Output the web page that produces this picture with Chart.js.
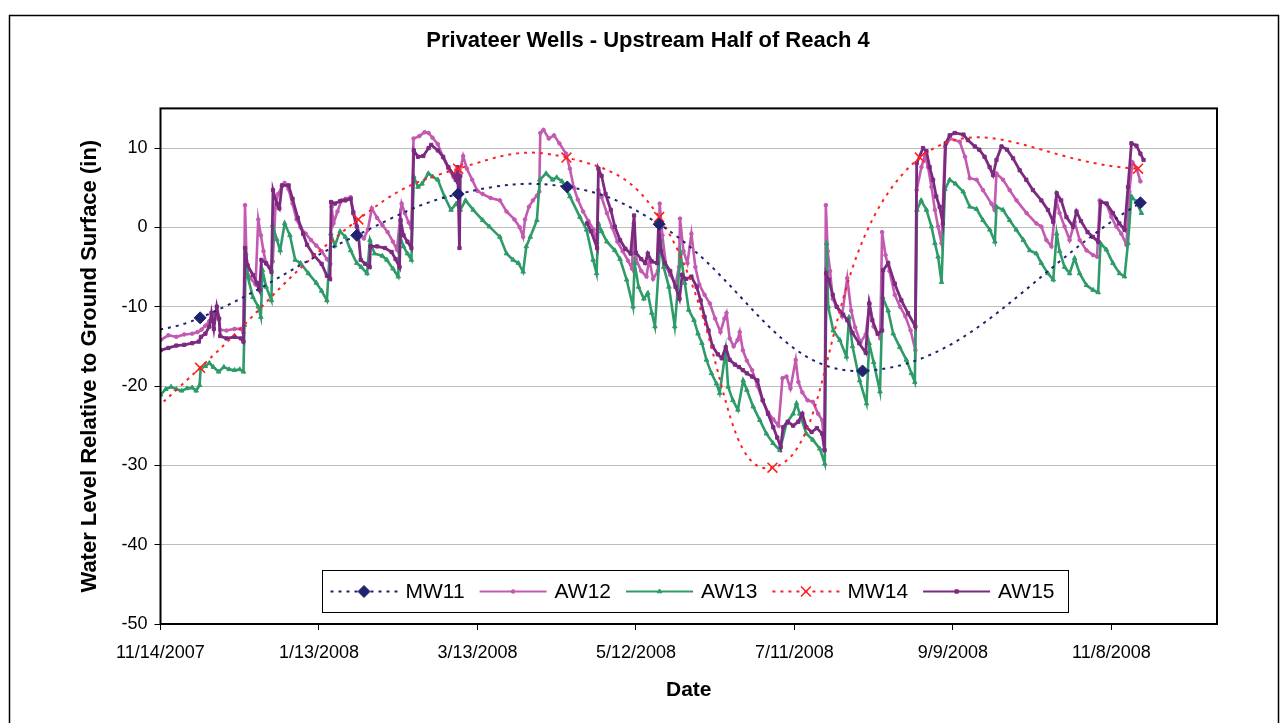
<!DOCTYPE html>
<html>
<head>
<meta charset="utf-8">
<title>Privateer Wells - Upstream Half of Reach 4</title>
<script src="https://cdn.jsdelivr.net/npm/chart.js@4.4.1/dist/chart.umd.min.js"></script>
<style>
  html, body { margin: 0; padding: 0; background: #fff; }
  #wrap { width: 1282px; height: 723px; position: relative; }
  canvas { display: block; }
</style>
</head>
<body>
<div id="wrap"><canvas id="chart" width="1282" height="723"></canvas></div>
<script>
// ---- DATA (x = days after 11/14/2007, y = water level in inches) ----
const BASE_YEAR = 2007, BASE_MONTH = 10, BASE_DAY = 14;   // 11/14/2007
const xTickDays = [0, 60, 120, 180, 240, 300, 360];
const yTickValues = [-50, -40, -30, -20, -10, 0, 10];
const seriesNames = ['MW11', 'AW12', 'AW13', 'MW14', 'AW15'];

// monitoring wells (manual readings; first point lies just before the axis start)
const mw11Readings = [[-15, -13.8], [15, -11.4], [74.3, -1.0], [112.7, 4.2], [154, 5.1], [188.8, 0.4], [265.8, -18.1], [371, 3.1]];
const mw14Readings = [[-10, -25.4], [15, -17.7], [74.9, 1.0], [112.7, 7.4], [153.7, 8.8], [188.8, 1.3], [231.7, -30.3], [287.5, 8.8], [370.1, 7.4]];

const aw12Readings = [[0,-14.2],[3,-13.6],[6,-13.8],[9,-13.5],[12,-13.4],[14,-13.2],[15.5,-12.9],[17,-12.4],[18.5,-11.8],[20,-11.2],[21,-10.6],[22,-11.5],[22.6,-12.9],[25,-13.0],[28,-12.8],[30.5,-12.8],[31.4,-13.3],[32,2.8],[32.7,-5.5],[34,-6.4],[36,-7.2],[37,1.0],[38,-1.0],[39,-3.0],[40,-4.6],[41.5,-5.0],[42.5,-4.3],[43.5,2.5],[44.5,4.2],[46,5.2],[47,5.6],[48.5,4.8],[50,3.0],[51.5,1.0],[53,0.0],[55,-0.8],[57,-1.6],[59,-2.3],[61,-3.0],[63,-4.0],[64.3,-4.6],[64.8,2.6],[65.5,0.5],[67,2.0],[68.5,3.4],[70,3.6],[72,3.8],[73,2.0],[74,0.8],[75.5,-1.0],[77,-1.4],[78.5,-0.3],[80,2.4],[82,1.2],[84,0.3],[86,-0.6],[88,-1.8],[89.5,-2.8],[91.3,3.0],[92.5,1.8],[94,0.6],[95,-0.1],[95.8,11.2],[98,11.5],[100,12.0],[101.5,11.9],[103,11.3],[105,10.5],[107,8.8],[109,7.4],[111,6.3],[113,6.5],[114.6,9.0],[116,7.4],[118,6.0],[120,4.6],[122,4.2],[125,3.7],[128.5,3.4],[131,2.0],[134,1.0],[136,0.0],[137.3,-1.2],[138,1.0],[139.5,2.6],[141,3.4],[142.5,4.0],[143.4,4.5],[143.8,11.9],[145,12.3],[147,11.2],[149,11.6],[151,10.6],[153.5,9.3],[155,7.4],[156.5,5.0],[158,3.5],[160,2.0],[162,0.8],[164,-0.3],[165.3,-2.0],[165.8,4.7],[167,3.8],[169,1.8],[171,0.0],[173,-1.8],[175,-3.0],[177,-4.2],[178.5,-5.2],[179.2,0.5],[180,-4.0],[182,-5.5],[184,-6.2],[185,-4.0],[186.5,-6.5],[188.3,-5.5],[189,3.0],[190,-1.0],[191.5,-5.0],[193,-6.0],[195,-7.2],[196.3,-5.0],[196.7,1.1],[198,-3.0],[199.5,-4.5],[201,-0.8],[202.5,-5.0],[204,-7.2],[206,-8.5],[208,-9.6],[210,-11.5],[212,-13.2],[213.5,-11.5],[214.3,-10.8],[215.5,-14.0],[217,-15.0],[218.5,-14.2],[219.3,-13.2],[220.5,-15.5],[222,-16.8],[224,-18.0],[226,-20.0],[228,-21.8],[230,-23.3],[232,-24.2],[234,-25.0],[235.5,-19.0],[237,-18.8],[238.5,-20.3],[240.5,-16.7],[241.5,-19.5],[243,-20.8],[245,-21.8],[247,-22.0],[249,-23.5],[250.5,-24.3],[251.4,-28.0],[251.9,2.8],[252.6,-3.0],[253.5,-5.5],[254.5,-9.0],[256,-10.0],[258,-11.2],[260,-6.4],[261.5,-10.5],[263,-12.6],[265,-14.5],[267,-13.5],[268.5,-9.6],[270,-12.5],[272.5,-14.0],[273.2,-0.6],[274.5,-3.5],[276,-5.5],[278,-8.5],[280,-10.0],[282,-11.2],[284,-13.0],[285.8,-15.5],[286.3,4.7],[288.1,7.6],[289.4,9.1],[290.6,7.6],[291.9,5.1],[293.2,2.2],[294.4,0.1],[295.7,-2.0],[297,10.2],[299,11.2],[302.6,10.8],[304.6,8.9],[306.4,6.2],[309,6.0],[311.4,4.7],[314.6,3.0],[315.8,2.2],[316.5,6.8],[319,6.0],[321.5,4.7],[324.1,3.4],[327.9,1.8],[331.6,0.5],[333.5,0.1],[335.4,-1.6],[337.3,-2.4],[339.2,3.4],[340.4,1.8],[342.3,0.1],[344.2,-1.6],[346.1,0.7],[348,-1.6],[350.6,-2.9],[353.1,-3.5],[354.6,-3.7],[355.6,3.4],[358.1,3.0],[360,1.3],[361.9,0.1],[363.8,-0.8],[365.7,-2.2],[366.8,4.5],[368,8.2],[369.5,7.5],[371,5.8]];

const aw13Readings = [[0,-21.1],[2,-20.4],[4,-20.1],[6,-20.4],[8,-20.6],[10,-20.3],[12,-20.2],[13.5,-20.6],[14.8,-19.9],[15.2,-17.8],[17,-17.5],[18.5,-17.1],[20,-17.6],[22,-18.2],[24,-17.6],[26,-17.9],[28,-18.0],[30,-17.9],[31.4,-18.2],[31.8,-12.3],[32.3,-3.3],[33,-6.2],[35,-8.8],[37,-10.0],[38,-11.3],[38.6,-5.4],[40,-7.5],[42,-9.2],[42.5,0.3],[44,-1.5],[45.3,-2.9],[47,0.5],[49,-1.0],[51,-4.1],[53,-4.5],[56,-5.8],[59,-7.0],[61,-8.0],[63,-9.2],[64.5,-0.8],[66,-2.3],[68,-0.5],[70,-1.2],[72,-2.9],[74.3,-4.5],[76,-5.0],[78.2,-5.8],[79.3,-1.6],[81,-3.3],[84,-3.6],[85.7,-4.1],[88,-5.2],[90,-6.2],[90.6,-1.0],[92,-2.4],[93.5,-3.3],[95,-4.1],[95.9,6.4],[97.5,5.1],[99,5.5],[101.4,6.8],[103,6.4],[105,6.0],[107.5,3.9],[110,2.2],[112,3.0],[113.5,2.2],[115.5,3.4],[118.4,2.2],[122,0.9],[124.5,0.1],[128.5,-1.2],[131,-3.3],[133.5,-4.1],[135.5,-4.5],[137.3,-5.6],[138.5,-2.4],[140,-1.2],[142.5,0.9],[143.6,6.0],[146,6.8],[148.5,6.0],[150,6.3],[152,5.8],[155,3.9],[158.8,1.3],[161.3,-0.3],[163.8,-4.1],[165.1,-5.8],[165.8,0.5],[167,-0.5],[169,-1.8],[172,-2.9],[174,-4.0],[176.5,-6.6],[178.9,-10.0],[179.5,-4.5],[181,-7.5],[183,-9.0],[184.5,-8.3],[186,-10.8],[187.2,-12.5],[189.3,-1.6],[190.5,-5.0],[192.5,-7.5],[194.7,-12.5],[196.9,-3.3],[198.5,-7.0],[200,-10.4],[202,-11.7],[203.5,-13.4],[205,-14.6],[206.7,-16.7],[208.6,-18.4],[210.5,-19.7],[211.7,-20.9],[214,-15.5],[214.9,-20.1],[216.7,-21.8],[218.6,-23.0],[220.6,-19.3],[222,-20.5],[224.4,-22.6],[226.9,-24.3],[229.4,-26.0],[231.9,-27.2],[234.5,-28.1],[237,-24.7],[239.5,-23.5],[240.8,-22.2],[242,-23.5],[244.5,-26.0],[247,-26.8],[249.6,-27.9],[251.5,-29.8],[252.2,-2.0],[252.8,-10.0],[254.7,-13.0],[257.2,-14.2],[259.7,-16.3],[260.7,-11.3],[262,-15.0],[264.7,-19.3],[267.3,-22.2],[268.3,-14.6],[270,-17.0],[272.4,-20.7],[273.4,-8.8],[275.5,-10.5],[277.4,-13.4],[279.9,-15.1],[282.4,-16.7],[284.3,-18.4],[285.6,-19.5],[286.4,2.2],[288,3.4],[290,2.2],[291.9,0.1],[293.2,-2.0],[294.4,-3.7],[295.7,-6.9],[297,4.8],[298.8,6.0],[301,5.5],[303.9,4.5],[306.4,2.6],[309,2.3],[311.4,0.9],[314,-0.3],[315.9,-1.8],[316.5,2.6],[319,2.2],[321.5,0.9],[324,-0.3],[326.7,-1.6],[329.1,-2.9],[331.6,-3.3],[333.5,-4.5],[336,-5.8],[338,-6.6],[339.3,-0.8],[340.4,-3.0],[342.3,-5.0],[344.2,-5.8],[346.1,-3.9],[348,-5.8],[350.6,-7.3],[353.1,-7.9],[355,-8.2],[355.9,-2.0],[358.1,-2.8],[360.6,-4.5],[363.1,-5.8],[365,-6.2],[366.3,-2.0],[367.6,3.9],[369.5,3.2],[371.4,1.8]];

const aw15Readings = [[0,-15.5],[3,-15.2],[6,-14.9],[9,-14.8],[12,-14.6],[14.5,-14.4],[15.3,-13.8],[17,-13.4],[18.5,-12.5],[19.3,-10.8],[20.2,-12.8],[21.3,-10.0],[22.2,-11.5],[22.6,-13.7],[25,-14.0],[28,-13.8],[30.5,-14.0],[31.4,-14.4],[32,-2.6],[33,-4.8],[35,-6.0],[36.5,-7.0],[37.5,-7.9],[38.2,-4.1],[40,-4.5],[42,-5.6],[42.6,4.7],[44,3.0],[45,2.4],[46,5.3],[48.5,5.3],[50,3.6],[52,1.2],[54,-0.8],[55.5,-2.2],[58,-3.5],[61,-4.6],[63,-6.1],[64.2,-6.5],[64.6,3.2],[66,3.0],[68,3.3],[70,3.4],[72,3.6],[73,1.8],[74.3,0.1],[75,-1.2],[75.8,-4.1],[77.5,-4.6],[79.2,-5.0],[79.5,-2.4],[82,-2.4],[85,-2.6],[87.5,-3.1],[89,-4.0],[90.5,-5.0],[90.9,0.9],[92,-1.0],[93.5,-1.8],[95,-2.6],[95.9,9.7],[97.5,8.9],[99.5,9.0],[101.5,10.0],[102.5,10.4],[105,9.7],[107,8.9],[109,7.6],[111,6.6],[111.8,6.0],[112.5,7.6],[113.2,-2.6],[113.5,6.5],[138,null],[161.5,0.5],[163,-0.5],[165.3,-2.6],[165.8,7.4],[167,6.5],[168.5,4.2],[170.5,2.2],[172,0.1],[174,-1.6],[176,-2.7],[178,-3.3],[179.3,1.5],[180,-3.2],[182,-4.0],[183.5,-4.5],[184.5,-3.3],[186,-4.3],[188,-4.5],[188.6,0.5],[189.5,-3.0],[191,-4.5],[193,-5.5],[195,-7.5],[196.5,-9.0],[197.5,-6.0],[199,-6.5],[201,-6.2],[203,-7.5],[204.5,-9.2],[206,-11.3],[207.5,-13.0],[209,-15.0],[211,-16.0],[212.5,-16.5],[214,-15.1],[215.5,-16.7],[217.5,-17.3],[219,-17.6],[220.5,-18.0],[222,-18.4],[224,-18.8],[226,-19.3],[228,-21.8],[230,-23.5],[232,-25.2],[233.5,-26.5],[234.8,-27.7],[235.7,-25.2],[237.5,-24.5],[239.5,-25.0],[241.5,-24.5],[243,-23.5],[244.5,-25.2],[246.5,-25.8],[248.5,-25.3],[250.5,-26.0],[251.4,-28.1],[252,-5.8],[253,-6.6],[254.5,-8.5],[256,-10.0],[258.5,-11.0],[260,-11.7],[262,-13.3],[264.5,-14.6],[267,-15.8],[268.3,-9.6],[269.5,-11.7],[271.5,-13.4],[273.2,-13.0],[273.6,-5.4],[275.5,-4.5],[278,-7.1],[280.5,-9.2],[283,-10.8],[285.8,-12.5],[286.3,8.1],[288.7,10.0],[290,9.6],[291.2,7.6],[292.5,6.0],[293.7,3.9],[295,2.6],[296.2,0.5],[297.3,10.6],[298.8,11.6],[300.7,11.9],[304,11.7],[305.7,11.0],[308.3,10.2],[310,9.8],[312,8.9],[313.9,7.6],[315.2,6.6],[316.5,8.5],[318.4,10.2],[320.5,9.8],[322.8,8.7],[325.3,7.2],[327.8,6.0],[330.3,4.7],[333.5,3.4],[336,2.2],[338,0.7],[339.3,4.3],[341,3.4],[343,1.3],[345.5,0.1],[346.8,2.0],[348.5,0.8],[351,-0.6],[353,-1.2],[355,-1.8],[356,3.2],[358.2,3.0],[360.6,1.8],[363,0.5],[365,-0.3],[366.3,5.1],[367.6,10.6],[369.5,10.3],[371,9.3],[372.2,8.5]];

// ---- CHART ----
const FONT = "'Liberation Sans', Arial, Helvetica, sans-serif";
const toXY = arr => arr.map(p => ({ x: p[0], y: p[1] }));
const fmtDay = v => {
  const d = new Date(BASE_YEAR, BASE_MONTH, BASE_DAY + v);
  return (d.getMonth() + 1) + '/' + d.getDate() + '/' + d.getFullYear();
};

const framePlugin = {
  id: 'frame',
  beforeDraw(chart) {
    const { ctx, width, height } = chart;
    ctx.save();
    ctx.fillStyle = '#fff';
    ctx.fillRect(0, 0, width, height);
    ctx.strokeStyle = '#000';
    ctx.lineWidth = 1.5;
    ctx.strokeRect(9.5, 15.5, width - 13, height + 20);
    ctx.restore();
  },
  afterDraw(chart) {
    const { ctx, chartArea: a } = chart;
    ctx.save();
    ctx.setLineDash([]);
    ctx.strokeStyle = '#000';
    ctx.lineWidth = 2;
    ctx.strokeRect(a.left, a.top, a.right - a.left, a.bottom - a.top);

    // legend inside the plot, at the bottom
    ctx.font = '21px ' + FONT;
    const sampleW = 67, gapT = 8, itemGap = 15, padL = 8, padR = 14;
    const entries = seriesNames.map(n => chart.data.datasets.find(d => d.label === n));
    let total = padL + padR;
    entries.forEach((d, i) => { total += sampleW + gapT + ctx.measureText(d.label).width + (i ? itemGap : 0); });
    const bx = Math.round((a.left + a.right) / 2 + 6 - total / 2) + 0.5;
    const by = 570.5, bh = 42;
    ctx.fillStyle = '#fff';
    ctx.fillRect(bx, by, total, bh);
    ctx.lineWidth = 1;
    ctx.strokeStyle = '#000';
    ctx.strokeRect(bx, by, total, bh);
    const cy = by + bh / 2;
    let px = bx + padL;
    entries.forEach((d, i) => {
      if (i) px += itemGap;
      ctx.save();
      ctx.strokeStyle = d.borderColor;
      ctx.lineWidth = Math.min(d.borderWidth, 2.2);
      ctx.setLineDash(d.borderDash || []);
      ctx.beginPath();
      ctx.moveTo(px, cy);
      ctx.lineTo(px + sampleW, cy);
      ctx.stroke();
      ctx.setLineDash([]);
      ctx.fillStyle = d.pointBackgroundColor;
      ctx.strokeStyle = d.pointBorderColor;
      ctx.lineWidth = d.pointBorderWidth;
      if (Chart.helpers && Chart.helpers.drawPoint) {
        Chart.helpers.drawPoint(ctx, { pointStyle: d.pointStyle, radius: d.legendRadius, borderWidth: d.pointBorderWidth, rotation: 0 }, px + sampleW / 2, cy);
      }
      ctx.restore();
      px += sampleW + gapT;
      ctx.fillStyle = '#000';
      ctx.textBaseline = 'middle';
      ctx.textAlign = 'left';
      ctx.fillText(d.label, px, cy + 1);
      px += ctx.measureText(d.label).width;
    });
    ctx.restore();
  }
};

const NAVY = '#1F2370', PINK = '#C35AB1', GREEN = '#2E9B69', RED = '#FF2020', PURPLE = '#7C2A80';

new Chart(document.getElementById('chart'), {
  type: 'line',
  data: {
    datasets: [
      { label: 'MW11', data: toXY(mw11Readings), borderColor: NAVY, borderWidth: 2, borderDash: [3, 5],
        tension: 0.4, pointStyle: 'rectRot', pointRadius: 6, legendRadius: 6,
        pointBackgroundColor: NAVY, pointBorderColor: NAVY, pointBorderWidth: 1, order: 1 },
      { label: 'AW12', data: toXY(aw12Readings), borderColor: PINK, borderWidth: 2.6, tension: 0,
        pointStyle: 'circle', pointRadius: 1.8, legendRadius: 1.8,
        pointBackgroundColor: PINK, pointBorderColor: PINK, pointBorderWidth: 1, order: 5 },
      { label: 'AW13', data: toXY(aw13Readings), borderColor: GREEN, borderWidth: 2.6, tension: 0,
        pointStyle: 'triangle', pointRadius: 2.6, legendRadius: 2.6,
        pointBackgroundColor: GREEN, pointBorderColor: GREEN, pointBorderWidth: 1, order: 4 },
      { label: 'MW14', data: toXY(mw14Readings), borderColor: RED, borderWidth: 2, borderDash: [3, 5],
        tension: 0.45, pointStyle: 'crossRot', pointRadius: 7, legendRadius: 7,
        pointBackgroundColor: RED, pointBorderColor: RED, pointBorderWidth: 1.6, order: 2 },
      { label: 'AW15', data: toXY(aw15Readings), borderColor: PURPLE, borderWidth: 2.8, tension: 0,
        pointStyle: 'rect', pointRadius: 2.3, legendRadius: 2.4,
        pointBackgroundColor: PURPLE, pointBorderColor: PURPLE, pointBorderWidth: 1, order: 3 }
    ]
  },
  options: {
    responsive: false,
    animation: false,
    devicePixelRatio: 1,
    events: [],
    layout: { padding: { left: 14, right: 0, top: 0, bottom: 0 } },
    plugins: {
      legend: { display: false },
      tooltip: { enabled: false },
      title: {
        display: true,
        text: 'Privateer Wells - Upstream Half of Reach 4',
        color: '#000',
        font: { family: FONT, size: 22, weight: 'bold' },
        padding: { top: 28, bottom: 54 }
      }
    },
    scales: {
      x: {
        type: 'linear', min: 0, max: 400,
        afterBuildTicks: s => { s.ticks = xTickDays.map(v => ({ value: v })); },
        afterFit: s => { s.height = 99; },
        ticks: { callback: v => fmtDay(v), color: '#000', font: { family: FONT, size: 18 }, padding: 12, maxRotation: 0, autoSkip: false },
        grid: { drawOnChartArea: false, drawTicks: true, tickLength: 6, color: '#000', lineWidth: 1 },
        border: { display: false },
        title: { display: true, text: 'Date', color: '#000', font: { family: FONT, size: 21, weight: 'bold' }, padding: { top: 0, bottom: 20 } }
      },
      y: {
        type: 'linear', min: -50, max: 15,
        afterBuildTicks: s => { s.ticks = yTickValues.map(v => ({ value: v })); },
        afterFit: s => { s.width = 146.5; },
        ticks: { color: '#000', font: { family: FONT, size: 18 }, padding: 7 },
        grid: { color: '#BDBDBD', lineWidth: 1, drawTicks: true, tickLength: 6, tickColor: '#000' },
        border: { display: false },
        title: { display: true, text: 'Water Level Relative to Ground Surface (in)', color: '#000', font: { family: FONT, size: 22, weight: 'bold' }, padding: { top: 63, bottom: 0 } }
      },
      yRight: {
        type: 'linear', position: 'right', display: true,
        afterFit: s => { s.width = 65; },
        ticks: { display: false },
        grid: { display: false, drawTicks: false },
        border: { display: false }
      }
    }
  },
  plugins: [framePlugin]
});
</script>
</body>
</html>
